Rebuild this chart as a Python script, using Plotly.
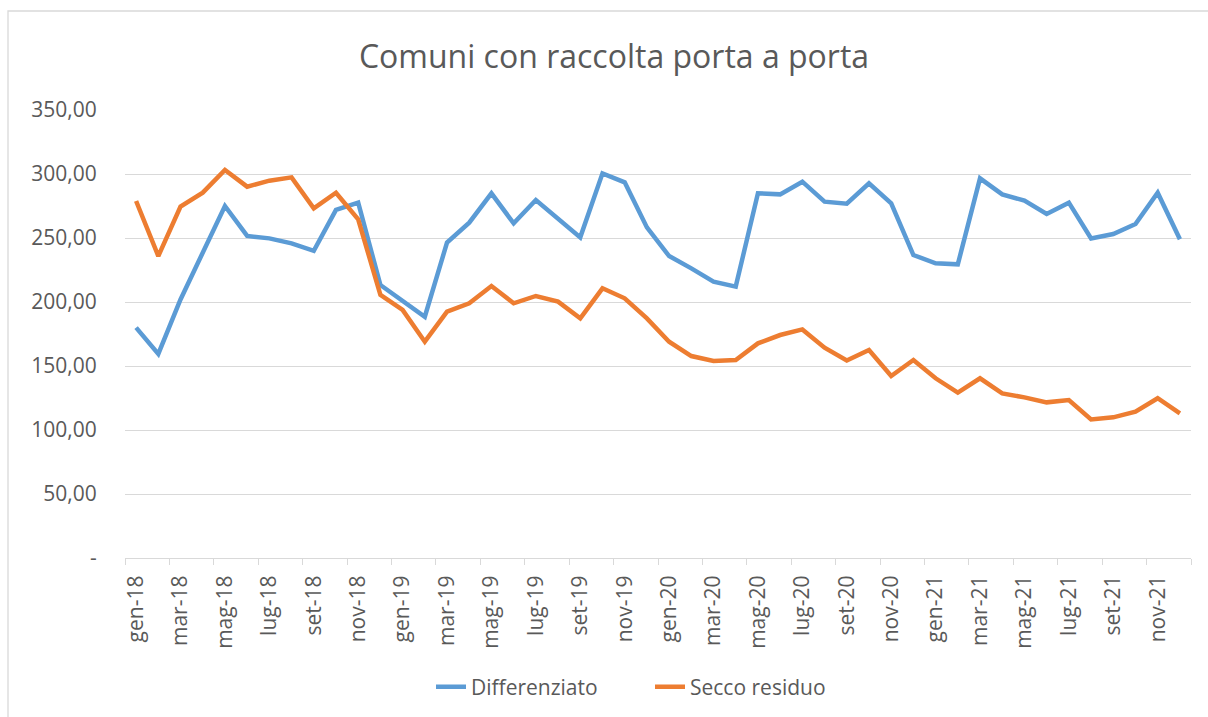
import plotly.graph_objects as go

months = ["gen", "feb", "mar", "apr", "mag", "giu", "lug", "ago", "set", "ott", "nov", "dic"]
years = ["18", "19", "20", "21"]
categories = [f"{m}-{y}" for y in years for m in months]

differenziato = [180.0, 159.4, 202.0, 238.0, 275.0, 251.6, 249.7, 245.8, 240.0, 271.9, 277.6, 213.3,
                 201.0, 188.5, 246.4, 262.0, 284.9, 261.5, 279.7, 265.4, 250.5, 300.5, 293.5, 258.3,
                 235.9, 226.3, 215.9, 212.0, 284.9, 284.1, 294.0, 278.4, 276.8, 292.7, 277.1, 236.7,
                 230.2, 229.4, 296.6, 284.1, 279.2, 268.8, 277.6, 249.7, 253.1, 260.9, 285.4, 249.0]

secco_residuo = [278.9, 235.9, 274.5, 285.4, 303.1, 290.1, 294.8, 297.4, 273.2, 285.4, 264.6, 205.5,
                 193.8, 169.0, 192.4, 199.0, 212.5, 199.0, 204.7, 200.3, 187.2, 210.7, 202.9, 187.2,
                 169.0, 157.8, 153.9, 154.7, 167.7, 174.2, 178.6, 164.3, 154.3, 162.5, 142.2, 154.7,
                 140.4, 129.2, 140.4, 128.6, 125.5, 121.6, 123.4, 108.3, 109.9, 114.3, 124.8, 113.0]

y_ticks = [0, 50, 100, 150, 200, 250, 300, 350]
y_ticktext = ["-" if v == 0 else f"{v:.2f}".replace(".", ",") for v in y_ticks]

title_text = "Comuni con raccolta porta a porta"
series_names = ["Differenziato", "Secco residuo"]
colors = ["#5B9BD5", "#ED7D31"]

W, H = 1208, 717
L, R, T, B = 125, 1191, 110, 558

x_idx = list(range(len(categories)))

fig = go.Figure()
for name, vals, c in zip(series_names, [differenziato, secco_residuo], colors):
    fig.add_trace(go.Scatter(x=x_idx, y=vals, mode="lines", name=name,
                             line=dict(color=c, width=4.5)))

def px2x(px):
    return (px - L) / (R - L)

def px2y(py):
    return (B - py) / (B - T)

font_fam = "Open Sans, Noto Sans, sans-serif"
grey = "#595959"

fig.update_layout(
    width=W, height=H,
    margin=dict(l=L, r=W - R, t=T, b=H - B, autoexpand=False),
    paper_bgcolor="white", plot_bgcolor="white",
    title=dict(text=title_text, x=614 / W, xref="container", xanchor="center",
               y=1 - 57 / H, yref="container", yanchor="middle",
               font=dict(family=font_fam, size=32, color=grey)),
    font=dict(family=font_fam, color=grey, size=21),
    showlegend=True,
    legend=dict(orientation="h", x=px2x(650), xanchor="center", y=px2y(687), yanchor="middle",
                font=dict(size=21, color=grey), bgcolor="rgba(0,0,0,0)",
                entrywidth=174, entrywidthmode="pixels"),
    xaxis=dict(
        range=[-0.5, len(categories) - 0.5],
        tickmode="array",
        tickvals=x_idx[::2],
        ticktext=categories[::2],
        tickangle=-90,
        ticks="outside", ticklen=8, tickcolor="rgba(0,0,0,0)",
        showgrid=False,
        showline=True, linecolor="#D9D9D9", linewidth=1.3,
        tickfont=dict(size=21, color=grey),
        minor=dict(tickmode="array", tickvals=[i - 0.5 for i in x_idx[::2]] + [len(categories) - 0.5],
                   ticks="outside", ticklen=6, tickcolor="#D9D9D9", tickwidth=1.3, showgrid=False),
        zeroline=False,
    ),
    yaxis=dict(
        range=[0, 350],
        tickmode="array",
        tickvals=y_ticks,
        ticktext=y_ticktext,
        showgrid=True, gridcolor="#D9D9D9", gridwidth=1.3,
        zeroline=False, showline=False,
        ticks="outside", ticklen=23, tickcolor="rgba(0,0,0,0)",
        tickfont=dict(size=21, color=grey),
    ),
    shapes=[dict(type="rect", xref="paper", yref="paper",
                 x0=px2x(8), x1=px2x(1220), y0=px2y(730), y1=px2y(11),
                 line=dict(color="#D9D9D9", width=1.3), fillcolor="rgba(0,0,0,0)", layer="below")],
)

fig.write_html("out.html", config={"displayModeBar": False},
               post_script="document.body.style.margin='0';document.body.style.overflow='hidden';")
